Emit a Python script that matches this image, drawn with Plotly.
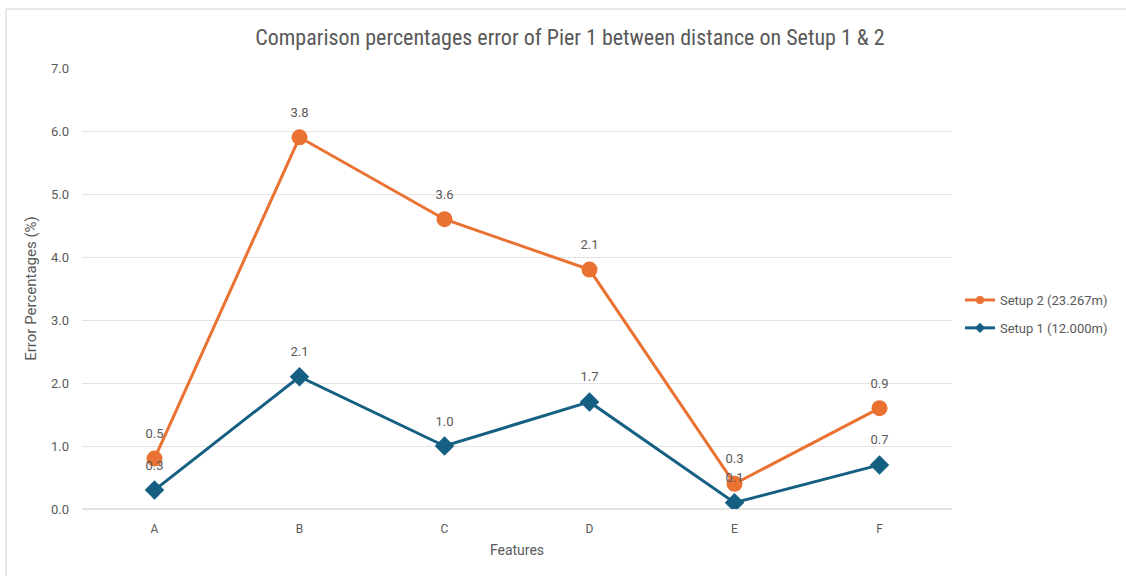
import plotly.graph_objects as go

features = ["A", "B", "C", "D", "E", "F"]
setup1 = [0.3, 2.1, 1.0, 1.7, 0.1, 0.7]
setup2 = [0.5, 3.8, 3.6, 2.1, 0.3, 0.9]
y_ticks = [0, 1, 2, 3, 4, 5, 6, 7]
names = ["Setup 1 (12.000m)", "Setup 2 (23.267m)"]
colors = ["#156082", "#E97132"]
symbols = ["diamond", "circle"]
legend_ranks = [2, 1]

W, H = 1126, 576
L, R, T, B = 82, 174, 68, 67
pw, ph = W - L - R, H - T - B

fig = go.Figure()
series = [setup1, setup2]
# lines + markers (stacked)
for vals, nm, c, s in zip(series, names, colors, symbols):
    fig.add_trace(go.Scatter(
        x=features, y=vals, name=nm, stackgroup="lines", fill="none",
        mode="lines+markers", showlegend=False, hoverinfo="skip",
        line=dict(color=c, width=3),
        marker=dict(symbol=s, size=16 if s == "circle" else 15, color=c),
    ))
# data labels on top (stacked identically)
for vals in series:
    fig.add_trace(go.Scatter(
        x=features, y=vals, stackgroup="labels", fill="none",
        mode="markers+text", showlegend=False, hoverinfo="skip",
        line=dict(width=0),
        marker=dict(size=26, opacity=0),
        text=[f"{v:.1f}" for v in vals], textposition="top center",
        textfont=dict(size=13, color="#595959"),
    ))
# legend entries
for vals, nm, c, s, rk in zip(series, names, colors, symbols, legend_ranks):
    fig.add_trace(go.Scatter(
        x=[None], y=[None], name=nm, mode="lines+markers", legendgroup=nm,
        legendrank=rk,
        line=dict(color=c, width=3), marker=dict(symbol=s, size=8, color=c),
    ))

def px_x(p):
    return (p - L) / pw

def px_y(p):
    return (H - B - p) / ph

fig.update_layout(
    width=W, height=H,
    paper_bgcolor="white", plot_bgcolor="white",
    font=dict(family="Roboto, Open Sans, sans-serif", color="#595959"),
    title=dict(text="Comparison percentages error of Pier 1 between distance on Setup 1 & 2",
               x=570 / W, xanchor="center", y=1 - 37 / H, yanchor="middle",
               font=dict(family="Roboto Condensed, Roboto, sans-serif", size=22, color="#595959")),
    margin=dict(l=L, r=R, t=T, b=B),
    legend=dict(xref="container", yref="container", x=960 / W, y=1 - 314 / H,
                xanchor="left", yanchor="middle",
                traceorder="grouped", font=dict(size=13, color="#595959"),
                itemwidth=30, tracegroupgap=8),
    xaxis=dict(type="category", range=[-0.5, 5.5], showgrid=False, automargin=False,
               showline=False, ticks="", tickfont=dict(size=12, color="#595959"),
               ticklabelstandoff=11,
               title=dict(text="Features", font=dict(size=14, color="#595959"), standoff=10)),
    yaxis=dict(range=[0, 7], tickvals=y_ticks, tickformat=".1f", automargin=False,
               gridcolor="#E3E3E3", gridwidth=1, zeroline=True, zerolinecolor="#E3E3E3",
               showline=False, ticks="", tickfont=dict(size=13, color="#595959"),
               ticklabelstandoff=12,
               title=dict(text="Error Percentages (%)", font=dict(size=15, color="#595959"), standoff=10)),
    shapes=[
        dict(type="line", xref="paper", yref="paper", x0=px_x(6), x1=px_x(W), y0=px_y(9), y1=px_y(9),
             line=dict(color="#E0E0E0", width=1.5), layer="below"),
        dict(type="line", xref="paper", yref="paper", x0=px_x(6), x1=px_x(6), y0=px_y(9), y1=px_y(H),
             line=dict(color="#E0E0E0", width=1.5), layer="below"),
    ],
)
fig.write_html("out.html", config={"displayModeBar": False},
               post_script="document.body.style.margin='0';")
